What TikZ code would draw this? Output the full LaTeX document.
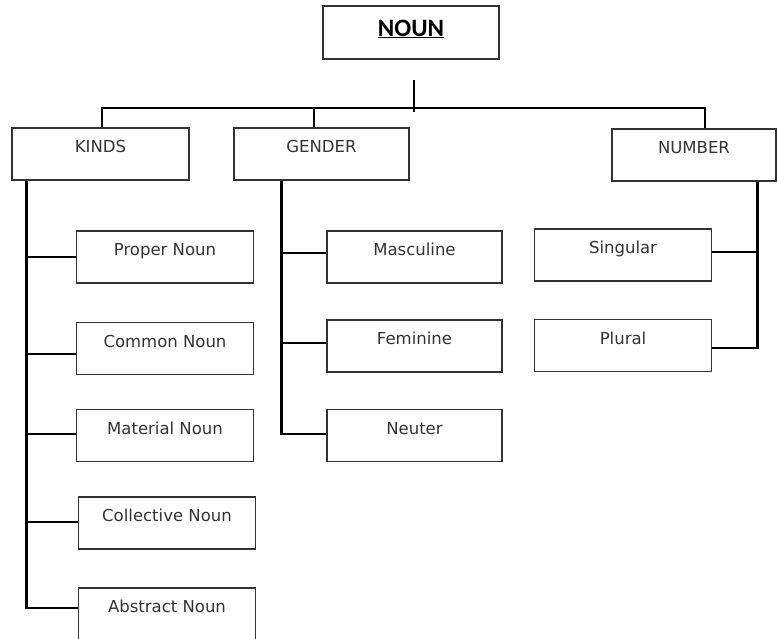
\documentclass[tikz,border=0pt]{standalone}
\usepackage{fontspec}
\setmainfont{DejaVu Sans}
\newfontfamily\headfont{Carlito}

\begin{document}
\begin{tikzpicture}[x=1pt,y=-1pt,
		box/.style={draw=black!80,line width=1.2pt,minimum width=177pt,minimum height=52pt,inner sep=0pt,
			text height=12pt,text depth=14.5pt,text=black!80,font=\fontsize{16.5}{18}\selectfont},
		conn/.style={line width=2.8pt}]
		\useasboundingbox (0,0) rectangle (777,638);
		\node[box,minimum width=176pt,minimum height=53pt,text height=18pt,text depth=11pt,text=black,
			font=\headfont\fontsize{25}{28}\bfseries\selectfont] (noun) at (411,32.5) {\underline{NOUN}};
		\node[box] (kinds) at (100.5,154) {KINDS};
		\node[box,minimum width=175pt] (gender) at (321.5,154) {GENDER};
		\node[box,minimum width=164pt] (number) at (694,155) {NUMBER};
		\node[box] (proper) at (165,257) {Proper Noun};
		\node[box] (common) at (165,348.5) {Common Noun};
		\node[box] (material) at (165,435.5) {Material Noun};
		\node[box] (collective) at (167,523) {Collective Noun};
		\node[box] (abstract) at (167,614) {Abstract Noun};
		\node[box,minimum width=175pt] (masculine) at (414.5,257) {Masculine};
		\node[box,minimum width=175pt] (feminine) at (414.5,346) {Feminine};
		\node[box,minimum width=175pt] (neuter) at (414.5,435.5) {Neuter};
		\node[box] (singular) at (623,255) {Singular};
		\node[box] (plural) at (623,345.5) {Plural};
		\coordinate (stemtop) at (414,80);
		\coordinate (hub) at (414,108);
		\draw[conn] (stemtop) -- ([yshift=-4pt]hub);
		\draw[conn] (hub) -| ([xshift=1.5pt]kinds.north);
		\draw[conn] (hub) -| ([xshift=-7.5pt]gender.north);
		\draw[conn] (hub) -| ([xshift=11pt]number.north);
		\coordinate (kindsrail) at ([xshift=15pt]kinds.south west);
		\coordinate (genderrail) at ([xshift=48pt]gender.south west);
		\coordinate (numberrail) at ([xshift=-19pt]number.south east);
		\draw[conn] (kindsrail) |- ([yshift=6pt]abstract.west);
		\foreach \n/\s in {proper/0,common/-5.5,material/1.5,collective/1}
			\draw[conn] ([yshift=\s pt]\n.west) -- ([yshift=\s pt]\n.west -| kindsrail);
		\draw[conn] (genderrail) |- ([yshift=1.5pt]neuter.west);
		\foreach \n/\s in {masculine/4,feminine/3}
			\draw[conn] ([yshift=\s pt]\n.west) -- ([yshift=\s pt]\n.west -| genderrail);
		\draw[conn] (numberrail) |- ([yshift=-2.5pt]plural.east);
		\draw[conn] ([yshift=3pt]singular.east) -- ([yshift=3pt]singular.east -| numberrail);
	\end{tikzpicture}
\end{document}
